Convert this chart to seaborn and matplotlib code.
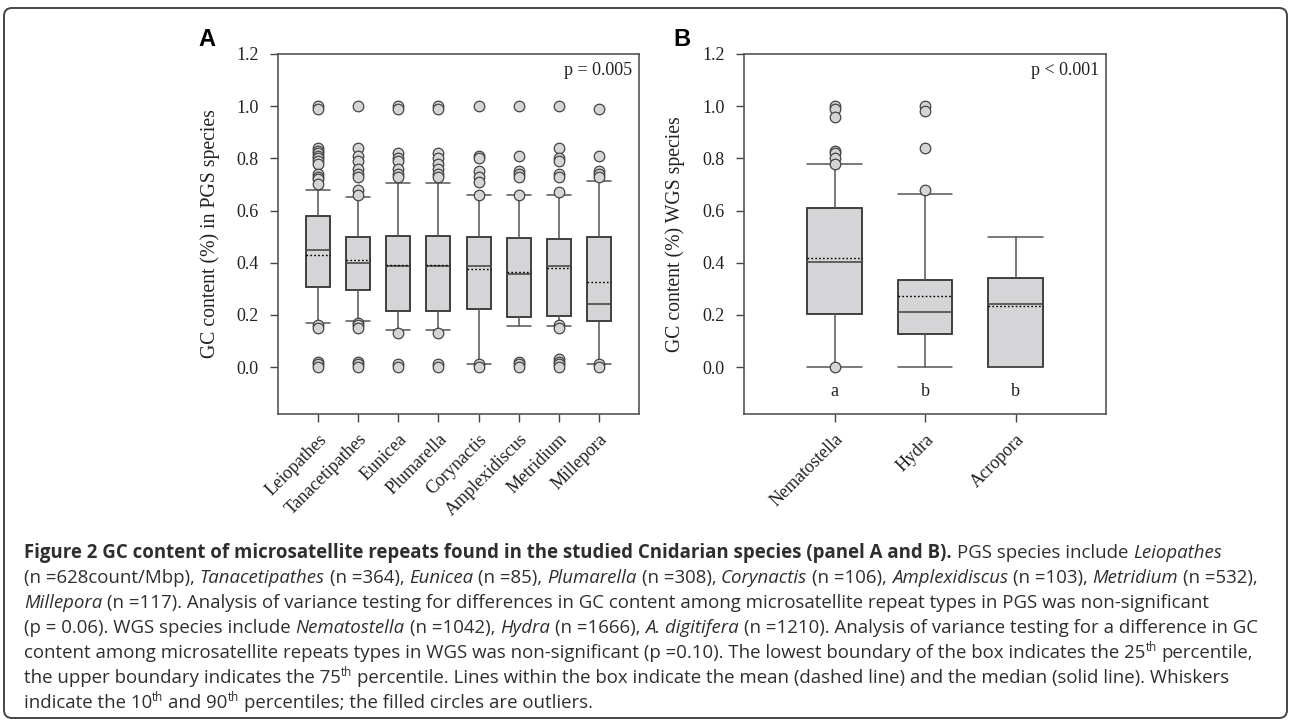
import matplotlib
matplotlib.use('Agg')
import matplotlib.pyplot as plt
from matplotlib.patches import FancyBboxPatch
from matplotlib.transforms import IdentityTransform
import seaborn as sns

# panel A: partial genome sequencing (PGS) species
pgs_species = ['Leiopathes', 'Tanacetipathes', 'Eunicea', 'Plumarella',
               'Corynactis', 'Amplexidiscus', 'Metridium', 'Millepora']
pgs_q1 = [0.305, 0.297, 0.213, 0.213, 0.223, 0.192, 0.196, 0.177]
pgs_median = [0.449, 0.399, 0.389, 0.389, 0.389, 0.358, 0.388, 0.243]
pgs_q3 = [0.580, 0.499, 0.503, 0.503, 0.499, 0.494, 0.489, 0.499]
pgs_mean = [0.428, 0.409, 0.390, 0.390, 0.376, 0.366, 0.378, 0.326]
pgs_p10 = [0.168, 0.178, 0.142, 0.142, 0.010, 0.156, 0.157, 0.010]
pgs_p90 = [0.680, 0.650, 0.707, 0.707, 0.660, 0.660, 0.661, 0.712]
pgs_outliers = [
    [1.0, 0.99, 0.84, 0.83, 0.82, 0.81, 0.80, 0.79, 0.78, 0.74, 0.73, 0.72, 0.70, 0.16, 0.15, 0.02, 0.01, 0.0],
    [1.0, 0.84, 0.81, 0.79, 0.76, 0.74, 0.73, 0.68, 0.66, 0.17, 0.16, 0.15, 0.02, 0.01, 0.0],
    [1.0, 0.99, 0.82, 0.80, 0.79, 0.76, 0.74, 0.73, 0.13, 0.01, 0.0],
    [1.0, 0.99, 0.82, 0.80, 0.78, 0.76, 0.74, 0.73, 0.13, 0.01, 0.0],
    [1.0, 0.81, 0.80, 0.75, 0.73, 0.71, 0.66, 0.01, 0.0],
    [1.0, 0.81, 0.75, 0.74, 0.73, 0.66, 0.02, 0.01, 0.0],
    [1.0, 0.84, 0.80, 0.79, 0.74, 0.73, 0.67, 0.16, 0.15, 0.03, 0.02, 0.01, 0.0],
    [0.99, 0.81, 0.75, 0.74, 0.73, 0.01, 0.0],
]

# panel B: whole genome sequencing (WGS) species
wgs_species = ['Nematostella', 'Hydra', 'Acropora']
wgs_q1 = [0.204, 0.127, 0.0]
wgs_median = [0.401, 0.210, 0.240]
wgs_q3 = [0.608, 0.335, 0.340]
wgs_mean = [0.417, 0.274, 0.233]
wgs_p10 = [0.0, 0.0, 0.0]
wgs_p90 = [0.778, 0.664, 0.500]
wgs_outliers = [
    [1.0, 0.99, 0.96, 0.83, 0.82, 0.80, 0.78, 0.0],
    [1.0, 0.98, 0.84, 0.68],
    [],
]
wgs_groups = ['a', 'b', 'b']

caption_lines = [
    [('Figure 2 GC content of microsatellite repeats found in the studied Cnidarian species (panel A and B).', 'b'),
     (' PGS species include ', 'n'), ('Leiopathes', 'i')],
    [('(n =628count/Mbp), ', 'n'), ('Tanacetipathes', 'i'), (' (n =364), ', 'n'), ('Eunicea', 'i'),
     (' (n =85), ', 'n'), ('Plumarella', 'i'), (' (n =308), ', 'n'), ('Corynactis', 'i'),
     (' (n =106), ', 'n'), ('Amplexidiscus', 'i'), (' (n =103), ', 'n'), ('Metridium', 'i'),
     (' (n =532),', 'n')],
    [('Millepora', 'i'), (' (n =117). Analysis of variance testing for differences in GC content among '
                          'microsatellite repeat types in PGS was non-significant', 'n')],
    [('(p = 0.06). WGS species include ', 'n'), ('Nematostella', 'i'), (' (n =1042), ', 'n'),
     ('Hydra', 'i'), (' (n =1666), ', 'n'), ('A. digitifera', 'i'),
     (' (n =1210). Analysis of variance testing for a difference in GC', 'n')],
    [('content among microsatellite repeats types in WGS was non-significant (p =0.10). The lowest '
      'boundary of the box indicates the 25', 'n'), ('th', 's'), (' percentile,', 'n')],
    [('the upper boundary indicates the 75', 'n'), ('th', 's'),
     (' percentile. Lines within the box indicate the mean (dashed line) and the median (solid line). Whiskers', 'n')],
    [('indicate the 10', 'n'), ('th', 's'), (' and 90', 'n'), ('th', 's'),
     (' percentiles; the filled circles are outliers.', 'n')],
]

sns.set_theme(style='ticks')
plt.rcParams['font.family'] = ['Liberation Serif', 'DejaVu Serif']

W, H = 1290, 721
fig = plt.figure(figsize=(W / 100, H / 100), dpi=100)
fig.patch.set_facecolor('white')

box_fill = '#d5d5d7'
edge = '#333333'


def box_stats(q1, med, q3, mean, lo, hi, outliers):
    stats = []
    for i in range(len(q1)):
        stats.append(dict(q1=q1[i], med=med[i], q3=q3[i], mean=mean[i],
                          whislo=lo[i], whishi=hi[i], fliers=outliers[i]))
    return stats


def draw_panel(ax, names, stats, ptext):
    ax.bxp(stats, positions=range(len(names)), widths=0.6, capwidths=0.6,
           showmeans=True, meanline=True, patch_artist=True,
           boxprops=dict(facecolor=box_fill, edgecolor=edge, linewidth=1.3),
           medianprops=dict(color='#4a4a4a', linewidth=1.2),
           meanprops=dict(color='black', linestyle=(0, (1.2, 1.6)), linewidth=1.0),
           whiskerprops=dict(color='#555555', linewidth=1.1),
           capprops=dict(color='#555555', linewidth=1.1),
           flierprops=dict(marker='o', markerfacecolor=box_fill, markeredgecolor='#444444',
                           markeredgewidth=0.9, markersize=7.6))
    ax.set_xlim(-1, len(names))
    ax.set_ylim(-0.18, 1.2)
    ax.set_yticks([0.0, 0.2, 0.4, 0.6, 0.8, 1.0, 1.2])
    ax.set_yticklabels([f'{v:.1f}' for v in [0.0, 0.2, 0.4, 0.6, 0.8, 1.0, 1.2]])
    ax.set_xticks(range(len(names)))
    ax.set_xticklabels(names, rotation=45, ha='right', va='top', rotation_mode='anchor')
    ax.tick_params(axis='both', direction='out', length=6, width=1.0, color='#444444',
                   labelsize=13, labelcolor='#222222')
    ax.tick_params(axis='y', pad=8)
    ax.tick_params(axis='x', pad=6)
    for s in ax.spines.values():
        s.set_color('#555555')
        s.set_linewidth(1.2)
    ax.set_facecolor('white')
    ax.grid(False)
    ax.text(0.982, 0.955, ptext, transform=ax.transAxes, ha='right', va='center',
            fontsize=13, color='#222222')


axA = fig.add_axes([278 / W, 1 - 414 / H, 361 / W, 360 / H])
draw_panel(axA, pgs_species,
           box_stats(pgs_q1, pgs_median, pgs_q3, pgs_mean, pgs_p10, pgs_p90, pgs_outliers),
           'p = 0.005')
axA.set_ylabel('GC content (%) in PGS species', fontsize=14.2, color='#222222')
axA.yaxis.set_label_coords(-0.162, 0.5)

axB = fig.add_axes([744 / W, 1 - 414 / H, 362 / W, 360 / H])
draw_panel(axB, wgs_species,
           box_stats(wgs_q1, wgs_median, wgs_q3, wgs_mean, wgs_p10, wgs_p90, wgs_outliers),
           'p < 0.001')
axB.set_ylabel('GC content (%) WGS species', fontsize=14.2, color='#222222')
axB.yaxis.set_label_coords(-0.162, 0.5)
for i, g in enumerate(wgs_groups):
    axB.text(i, -0.095, g, ha='center', va='center', fontsize=13, color='#222222')

# panel letters
fig.text(198 / W, 1 - 40 / H, 'A', fontsize=17, fontweight='bold', va='center',
         family=['Liberation Sans', 'DejaVu Sans'], color='black')
fig.text(673 / W, 1 - 40 / H, 'B', fontsize=17, fontweight='bold', va='center',
         family=['Liberation Sans', 'DejaVu Sans'], color='black')

# caption, drawn run by run
renderer = fig.canvas.get_renderer()
cap_size = 13.4
cap_color = '#2e2e2e'


def run_kw(style):
    kw = dict(family=['Open Sans', 'DejaVu Sans'], fontsize=cap_size, color=cap_color)
    if style == 'b':
        kw['fontweight'] = 'bold'
    elif style == 'i':
        kw['fontstyle'] = 'italic'
    elif style == 's':
        kw['fontsize'] = cap_size * 0.62
    return kw


def advance(s, kw):
    if not s:
        return 0.0
    t1 = fig.text(0, 0, '|' + s + '|', **kw)
    t2 = fig.text(0, 0, '||', **kw)
    w = t1.get_window_extent(renderer).width - t2.get_window_extent(renderer).width
    t1.remove()
    t2.remove()
    return w


x0 = 24
base0 = 558
step = 25
for li, runs in enumerate(caption_lines):
    x = x0
    yb = H - (base0 + li * step)
    for text, style in runs:
        kw = run_kw(style)
        body = text.strip(' ')
        lead = text[:len(text) - len(text.lstrip(' '))]
        trail = text[len(text.rstrip(' ')):]
        x += advance(lead, kw)
        y = yb + (cap_size * 100 / 72 * 0.38 if style == 's' else 0)
        fig.text(x / W, y / H, body, ha='left', va='baseline', **kw)
        x += advance(body, kw) + advance(trail, kw)

# rounded frame around the figure
frame = FancyBboxPatch((4, 3), 1283, 710, boxstyle='round,pad=0,rounding_size=8',
                       transform=IdentityTransform(), fill=False, edgecolor='#444444',
                       linewidth=1.4)
fig.add_artist(frame)

fig.savefig('out.png', dpi=100, facecolor='white')
